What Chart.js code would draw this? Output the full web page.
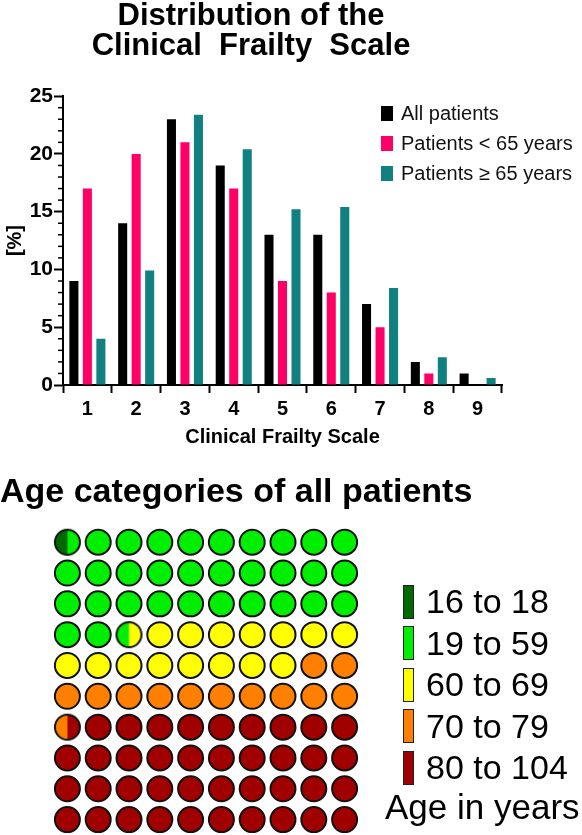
<!DOCTYPE html>
<html>
<head>
<meta charset="utf-8">
<script src="https://cdn.jsdelivr.net/npm/chart.js@4.4.1/dist/chart.umd.min.js"></script>
<style>
    body { margin: 0; background: #fff; font-family: "Liberation Sans", Arial, sans-serif; }
    .page { position: relative; width: 582px; height: 835px; overflow: hidden; }
    .bar-wrap { position: absolute; left: 0; top: 0; width: 582px; height: 450px; }
    .waffle-wrap { position: absolute; left: 0; top: 445px; width: 582px; height: 390px; }
    .bar-legend { position: absolute; left: 381px; top: 98px; }
    .bar-legend .item { display: flex; align-items: center; height: 30px; font-size: 20px; color: #111; }
    .bar-legend .box { width: 12px; height: 15px; margin-right: 8px; }
    .age-legend { position: absolute; left: 403px; top: 581px; }
    .age-legend .item { display: flex; align-items: center; height: 41.5px; font-size: 34px; color: #000; }
    .age-legend .box { width: 9px; height: 32px; margin-right: 12px; border: 1px solid #222; }
    .age-title { position: absolute; left: 385px; top: 787px; font-size: 35px; color: #000; }
</style>
</head>
<body>
<div class="page">
    <div class="bar-wrap"><canvas id="barChart"></canvas></div>
    <div class="waffle-wrap"><canvas id="waffleChart"></canvas></div>
    <div class="bar-legend" id="barLegend"></div>
    <div class="age-legend" id="ageLegend"></div>
    <div class="age-title">Age in years</div>
</div>

<script>
// --- data ---
const cfsLabels = ["1", "2", "3", "4", "5", "6", "7", "8", "9"];
const allPatients = [9, 14, 23, 19, 13, 13, 7, 2, 1];
const under65 = [17, 20, 21, 17, 9, 8, 5, 1, 0];
const over65 = [4, 9.9, 23.4, 20.4, 15.2, 15.4, 8.4, 2.4, 0.6];
const seriesNames = ["All patients", "Patients < 65 years", "Patients \u2265 65 years"];

const ageGroups = ["16 to 18", "19 to 59", "60 to 69", "70 to 79", "80 to 104"];
const ageShares = [0.5, 32, 15.5, 12.5, 39.5];   // percent of all patients

// --- styles ---
const seriesColors = ["#000000", "#ff0066", "#118080"];
const ageColors = ["#006a00", "#00ee00", "#ffff00", "#ff8000", "#a00000"];
const FONT = "'Liberation Sans', Arial, sans-serif";

/**
 * Small unlabeled ticks on the y axis between the labeled ones
 */
const minorTicks = {
    id: "minorTicks",
    afterDraw(chart) {
        const y = chart.scales.y;
        const x0 = chart.chartArea.left;
        const ctx = chart.ctx;
        ctx.save();
        ctx.strokeStyle = "#000";
        ctx.lineWidth = 1.5;
        for (let v = y.min; v <= y.max; v++) {
            if (v % 5 === 0) continue;
            const py = y.getPixelForValue(v);
            ctx.beginPath();
            ctx.moveTo(x0 - 5, py);
            ctx.lineTo(x0, py);
            ctx.stroke();
        }
        ctx.restore();
    }
};

new Chart(document.getElementById("barChart"), {
    type: "bar",
    data: {
        labels: cfsLabels,
        datasets: [allPatients, under65, over65].map((d, i) => ({
            label: seriesNames[i],
            data: d,
            backgroundColor: seriesColors[i],
            borderWidth: 0,
            categoryPercentage: 0.83,
            barPercentage: 0.67,
        })),
    },
    options: {
        responsive: true,
        maintainAspectRatio: false,
        animation: false,
        layout: { padding: { left: 0, right: 80, top: 0, bottom: 0 } },
        plugins: {
            legend: { display: false },
            tooltip: { enabled: false },
            title: {
                display: true,
                text: ["Distribution of the", "Clinical  Frailty  Scale"],
                color: "#000",
                font: { family: FONT, size: 31, weight: "bold", lineHeight: 0.97 },
                padding: { top: 1, bottom: 35 },
            },
        },
        scales: {
            x: {
                grid: { drawOnChartArea: false, tickLength: 8, tickWidth: 2, tickColor: "#000" },
                border: { color: "#000", width: 2 },
                ticks: { color: "#000", padding: 4, font: { family: FONT, size: 20, weight: "bold" } },
                title: {
                    display: true, text: "Clinical Frailty Scale", color: "#000",
                    font: { family: FONT, size: 20, weight: "bold" },
                    padding: { top: 0, bottom: 1 },
                },
                afterFit: (s) => { s.height = 65; },
            },
            y: {
                min: 0,
                max: 25,
                grid: { drawOnChartArea: false, tickLength: 9, tickWidth: 2, tickColor: "#000" },
                border: { color: "#000", width: 2 },
                ticks: { stepSize: 5, color: "#000", padding: 1, font: { family: FONT, size: 21, weight: "bold" } },
                title: {
                    display: true, text: "[%]", color: "#000",
                    font: { family: FONT, size: 20, weight: "bold" },
                    padding: { top: 3, bottom: 0 },
                },
                afterFit: (s) => { s.width = 63; },
            },
        },
    },
    plugins: [minorTicks],
});

// bar chart legend
document.getElementById("barLegend").innerHTML = seriesNames.map((n, i) => `
    <div class="item"><span class="box" style="background:${seriesColors[i]}"></span>${n}</div>`
).join("");

/**
 * Split the 100 waffle cells among the age groups; a cell can hold two groups
 */
function build_cells() {
    const bounds = [];
    let acc = 0;
    ageShares.forEach(s => { bounds.push([acc, acc + s]); acc += s; });
    const cells = [];
    for (let i = 0; i < 100; i++) {
        const parts = [];
        bounds.forEach(([a, b], k) => {
            const overlap = Math.min(b, i + 1) - Math.max(a, i);
            if (overlap > 1e-9) parts.push({ cat: k, frac: overlap });
        });
        cells.push({ x: i % 10, y: Math.floor(i / 10), parts });
    }
    return cells;
}

const R = 12.5;

// circle image with vertical split fills (left to right)
function split_circle(parts) {
    const size = 2 * R + 4;
    const c = document.createElement("canvas");
    c.width = size;
    c.height = size;
    const ctx = c.getContext("2d");
    const mid = size / 2;
    ctx.save();
    ctx.beginPath();
    ctx.arc(mid, mid, R, 0, Math.PI * 2);
    ctx.clip();
    let x = mid - R;
    parts.forEach(p => {
        ctx.fillStyle = ageColors[p.cat];
        ctx.fillRect(x, 0, 2 * R * p.frac + 0.5, size);
        x += 2 * R * p.frac;
    });
    ctx.restore();
    ctx.beginPath();
    ctx.arc(mid, mid, R, 0, Math.PI * 2);
    ctx.lineWidth = 2;
    ctx.strokeStyle = "#111";
    ctx.stroke();
    return c;
}

const cells = build_cells();
const mixed = cells.filter(c => c.parts.length > 1);

const waffleSets = ageGroups.map((g, k) => ({
    label: g,
    data: cells.filter(c => c.parts.length === 1 && c.parts[0].cat === k).map(c => ({ x: c.x, y: c.y })),
    backgroundColor: ageColors[k],
    borderColor: "#111",
    borderWidth: 2,
    pointRadius: R,
    pointHoverRadius: R,
}));
waffleSets.push({
    label: "mixed",
    data: mixed.map(c => ({ x: c.x, y: c.y })),
    pointStyle: mixed.map(c => split_circle(c.parts)),
    pointRadius: R,
});

// empty side axes only reserve room around the grid
const spacer = (w) => ({
    ticks: { display: false },
    grid: { display: false },
    border: { display: false },
    afterFit: (s) => { s.width = w; },
});

new Chart(document.getElementById("waffleChart"), {
    type: "scatter",
    data: { datasets: waffleSets },
    options: {
        responsive: true,
        maintainAspectRatio: false,
        animation: false,
        layout: { autoPadding: false, padding: 0 },
        plugins: {
            legend: { display: false },
            tooltip: { enabled: false },
            title: {
                display: true,
                text: "Age categories of all patients",
                align: "start",
                color: "#000",
                font: { family: FONT, size: 34, weight: "bold", lineHeight: 1.2 },
                padding: { top: 27, bottom: 14 },
            },
        },
        scales: {
            x: { type: "linear", min: -0.5, max: 9.5, display: false },
            y: { type: "linear", min: -0.5, max: 9.5, reverse: true, ...spacer(52) },
            yRight: { type: "linear", position: "right", ...spacer(222) },
        },
    },
});

document.getElementById("ageLegend").innerHTML = ageGroups.map((g, k) => `
    <div class="item"><span class="box" style="background:${ageColors[k]}"></span>${g}</div>`
).join("");
</script>
</body>
</html>
